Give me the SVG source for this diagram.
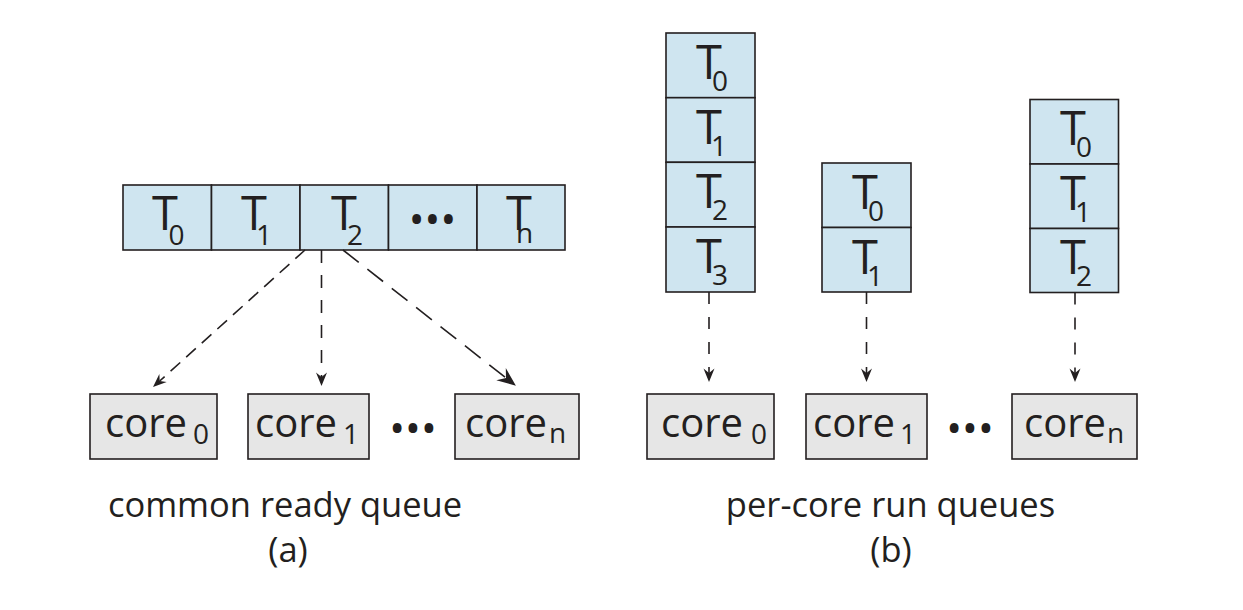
<svg xmlns="http://www.w3.org/2000/svg" width="1243" height="610" viewBox="0 0 1243 610">
<style>
.q{fill:#cfe5f0;stroke:#231f20;stroke-width:1.6}
.c{fill:#e6e6e6;stroke:#231f20;stroke-width:1.6}
text{font-family:"Open Sans","Noto Sans","Liberation Sans",sans-serif;fill:#231f20}
.t{font-size:47px}
.s{font-size:28px}
.k{font-size:40px}
.cap{font-size:34.5px}
.d{font-size:42px}
.ln{stroke:#231f20;stroke-width:1.6;fill:none}
</style>
<defs>
<marker id="ah" viewBox="-14 -6 15 12" refX="-9" refY="0" markerWidth="15" markerHeight="12" markerUnits="userSpaceOnUse" orient="auto">
<path d="M0,0 L-13.5,-5.5 L-9,0 L-13.5,5.5 Z" fill="#231f20"/>
</marker>
<marker id="ahb" viewBox="-14 -6 15 12" refX="-9" refY="0" markerWidth="21" markerHeight="16.8" markerUnits="userSpaceOnUse" orient="auto">
<path d="M0,0 L-13.5,-5.5 L-9,0 L-13.5,5.5 Z" fill="#231f20"/>
</marker>
</defs>
<rect width="1243" height="610" fill="#ffffff"/>

<!-- (a) common ready queue -->
<g id="qa-T0"><rect class="q" x="123" y="185" width="88.5" height="65"/><text class="t" x="152" y="230">T<tspan class="s" x="168.5" y="245">0</tspan></text></g>
<g id="qa-T1"><rect class="q" x="211.5" y="185" width="88.5" height="65"/><text class="t" x="241" y="230">T<tspan class="s" x="256" y="245">1</tspan></text></g>
<g id="qa-T2"><rect class="q" x="300" y="185" width="88.5" height="65"/><text class="t" x="331" y="230">T<tspan class="s" x="347" y="245">2</tspan></text></g>
<g id="qa-dots"><rect class="q" x="388.5" y="185" width="88.5" height="65"/><text class="d" x="432.5" y="234" text-anchor="middle">•••</text></g>
<g id="qa-Tn"><rect class="q" x="477" y="185" width="88" height="65"/><text class="t" x="506" y="230">T<tspan class="s" x="516" y="243">n</tspan></text></g>

<g id="ca-core0"><rect class="c" x="90" y="394" width="127" height="65"/><text class="k" x="105" y="437">core<tspan class="s" x="193" y="444">0</tspan></text></g>
<g id="ca-core1"><rect class="c" x="248" y="394" width="121" height="65"/><text class="k" x="255" y="437">core<tspan class="s" x="343" y="444">1</tspan></text></g>
<g id="ca-dots"><text class="d" x="413" y="443" text-anchor="middle">•••</text></g>
<g id="ca-coren"><rect class="c" x="455" y="394" width="124" height="65"/><text class="k" x="465" y="437">core<tspan class="s" x="549" y="443">n</tspan></text></g>

<g id="cap-a"><text class="cap" x="285" y="517" text-anchor="middle">common ready queue</text><text class="cap" x="288" y="562" text-anchor="middle">(a)</text></g>

<!-- (b) per-core run queues -->
<g id="qb1-T0"><rect class="q" x="666" y="33" width="89" height="64.7"/><text class="t" x="696" y="79">T<tspan class="s" x="712" y="91">0</tspan></text></g>
<g id="qb1-T1"><rect class="q" x="666" y="97.7" width="89" height="64.6"/><text class="t" x="696" y="144">T<tspan class="s" x="711" y="156">1</tspan></text></g>
<g id="qb1-T2"><rect class="q" x="666" y="162.3" width="89" height="64.7"/><text class="t" x="696" y="208">T<tspan class="s" x="712" y="220">2</tspan></text></g>
<g id="qb1-T3"><rect class="q" x="666" y="227" width="89" height="65"/><text class="t" x="696" y="273">T<tspan class="s" x="712" y="285">3</tspan></text></g>

<g id="qb2-T0"><rect class="q" x="822" y="163" width="89" height="64.5"/><text class="t" x="852" y="209">T<tspan class="s" x="868" y="221">0</tspan></text></g>
<g id="qb2-T1"><rect class="q" x="822" y="227.5" width="89" height="64.5"/><text class="t" x="852" y="274">T<tspan class="s" x="867" y="286">1</tspan></text></g>

<g id="qb3-T0"><rect class="q" x="1030" y="99.5" width="88.5" height="64.5"/><text class="t" x="1060" y="145">T<tspan class="s" x="1076" y="157">0</tspan></text></g>
<g id="qb3-T1"><rect class="q" x="1030" y="164" width="88.5" height="64.5"/><text class="t" x="1060" y="210">T<tspan class="s" x="1075" y="222">1</tspan></text></g>
<g id="qb3-T2"><rect class="q" x="1030" y="228.5" width="88.5" height="64"/><text class="t" x="1060" y="274">T<tspan class="s" x="1076" y="286">2</tspan></text></g>

<g id="cb-core0"><rect class="c" x="647" y="394" width="127" height="65"/><text class="k" x="661" y="437">core<tspan class="s" x="751" y="444">0</tspan></text></g>
<g id="cb-core1"><rect class="c" x="806" y="394" width="121" height="65"/><text class="k" x="813" y="437">core<tspan class="s" x="900" y="444">1</tspan></text></g>
<g id="cb-dots"><text class="d" x="970" y="443" text-anchor="middle">•••</text></g>
<g id="cb-coren"><rect class="c" x="1012" y="394" width="125" height="65"/><text class="k" x="1024" y="437">core<tspan class="s" x="1107" y="443">n</tspan></text></g>

<g id="cap-b"><text class="cap" x="890.5" y="517" text-anchor="middle">per-core run queues</text><text class="cap" x="891" y="562" text-anchor="middle">(b)</text></g>

<g id="connectors">
<line class="ln" x1="305" y1="250" x2="159.7" y2="381" stroke-dasharray="13 8" marker-end="url(#ah)"/>
<line class="ln" x1="321.5" y1="250" x2="321.5" y2="377" stroke-dasharray="13 12" marker-end="url(#ah)"/>
<line class="ln" x1="343" y1="250" x2="506" y2="378" stroke-dasharray="20 11" marker-end="url(#ahb)"/>
<line class="ln" x1="709" y1="292" x2="709" y2="373" stroke-dasharray="12 13" marker-end="url(#ah)"/>
<line class="ln" x1="866.5" y1="292" x2="866.5" y2="373" stroke-dasharray="12 13" marker-end="url(#ah)"/>
<line class="ln" x1="1075" y1="292.5" x2="1075" y2="373" stroke-dasharray="12 13" marker-end="url(#ah)"/>
</g>
</svg>
